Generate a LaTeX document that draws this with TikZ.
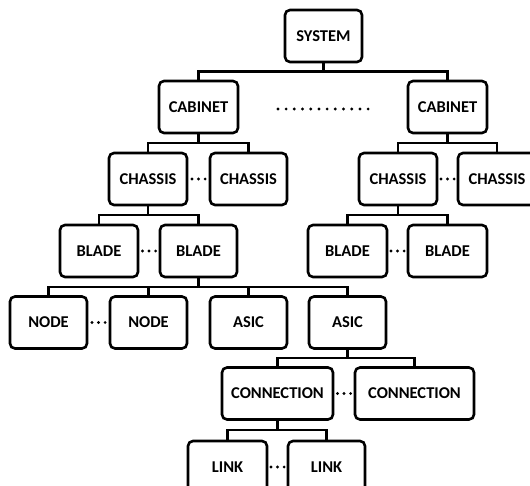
\documentclass[tikz,border=0pt]{standalone}
\usepackage{fontspec}
\setmainfont{Carlito}
\usetikzlibrary{calc}
\tikzset{
  unit/.style={draw, line width=2.6pt, rounded corners=5pt, minimum height=52pt,
    inner sep=0pt, font=\fontsize{16.5}{19}\selectfont\bfseries, fill=white},
  link/.style={line width=2.2pt},
  gap/.style={inner sep=0pt, minimum size=0pt}
}
\newcommand{\fork}[2]{\draw[link] (#1.south) |- ($(#1.south)!.5!(#2.north)$) -| (#2.north);}
% three dots centred on a named coordinate
\newcommand{\threedots}[1]{\foreach \k in {-1,0,1} \fill ($(#1)+(\k*6.6,0)$) circle (1.6pt);}
\begin{document}
\begin{tikzpicture}[x=1pt,y=-1pt]
\useasboundingbox (0,0) rectangle (530,486);
\begin{scope}
\clip (0,0) rectangle (530,486);
% units, top to bottom
\node[unit, minimum width=77pt] (sys) at (323.5,36) {SYSTEM};
\node[unit, minimum width=79pt] (cabA) at (198.5,107) {CABINET};
\node[unit, minimum width=79pt] (cabB) at (447.5,107) {CABINET};
\node[unit, minimum width=78pt] (chA) at (148,179) {CHASSIS};
\node[unit, minimum width=77pt] (chB) at (248.5,179) {CHASSIS};
\node[unit, minimum width=78pt] (chC) at (398,179) {CHASSIS};
\node[unit, minimum width=78pt] (chD) at (497,179) {CHASSIS};
\node[unit, minimum width=78pt] (blA) at (99,251) {BLADE};
\node[unit, minimum width=77pt] (blB) at (198.5,251) {BLADE};
\node[unit, minimum width=79pt] (blC) at (347.5,251) {BLADE};
\node[unit, minimum width=79pt] (blD) at (447.5,251) {BLADE};
\node[unit, minimum width=77pt] (ndA) at (48.5,322.5) {NODE};
\node[unit, minimum width=77pt] (ndB) at (148.5,322.5) {NODE};
\node[unit, minimum width=77pt] (asA) at (248.5,322.5) {ASIC};
\node[unit, minimum width=77pt] (asB) at (347.5,322.5) {ASIC};
\node[unit, minimum width=111pt] (cnA) at (277.5,393.5) {CONNECTION};
\node[unit, minimum width=119pt] (cnB) at (414.5,393.5) {CONNECTION};
\node[unit, minimum width=79pt] (lkA) at (227.5,467) {LINK};
\node[unit, minimum width=77pt] (lkB) at (326.5,467) {LINK};
% connectors
\fork{sys}{cabA} \fork{sys}{cabB}
\fork{cabA}{chA} \fork{cabA}{chB}
\fork{cabB}{chC} \fork{cabB}{chD}
\fork{chA}{blA} \fork{chA}{blB}
\fork{chC}{blC} \fork{chC}{blD}
\fork{blB}{ndA} \fork{blB}{ndB} \fork{blB}{asA} \fork{blB}{asB}
\fork{asB}{cnA} \fork{asB}{cnB}
\fork{cnA}{lkA} \fork{cnA}{lkB}
% ellipses between siblings
\coordinate (dCab) at ($(cabA.east)!.5!(cabB.west)+(0,2)$);
\foreach \k in {-5.5,-4.5,...,5.5} \fill ($(dCab)+(\k*8.2,0)$) circle (1.6pt);
\coordinate (dChA) at ($(chA.east)!.5!(chB.west)$);   \threedots{dChA}
\coordinate (dChB) at ($(chC.east)!.5!(chD.west)$);   \threedots{dChB}
\coordinate (dBlA) at ($(blA.east)!.5!(blB.west)$);   \threedots{dBlA}
\coordinate (dBlB) at ($(blC.east)!.5!(blD.west)$);   \threedots{dBlB}
\coordinate (dNd) at ($(ndA.east)!.5!(ndB.west)$);    \threedots{dNd}
\coordinate (dCn) at ($(cnA.east)!.5!(cnB.west)$);    \threedots{dCn}
\coordinate (dLk) at ($(lkA.east)!.5!(lkB.west)$);    \threedots{dLk}
\end{scope}
\end{tikzpicture}
\end{document}
